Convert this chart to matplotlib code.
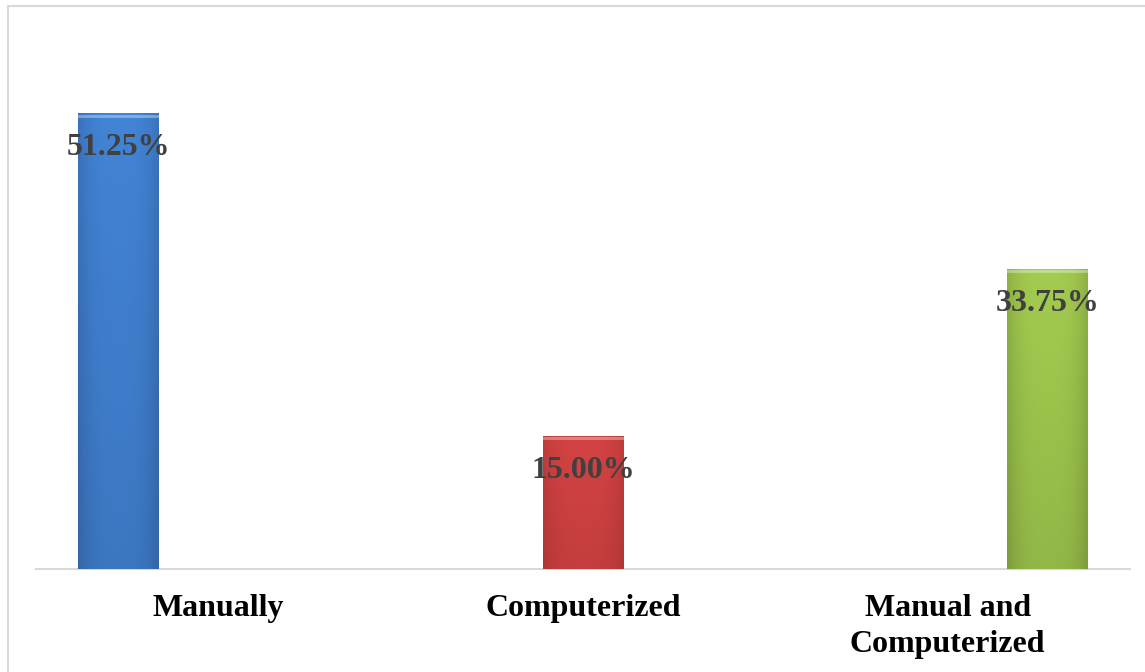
import matplotlib.pyplot as plt
import numpy as np
from matplotlib.lines import Line2D
from matplotlib.colors import LinearSegmentedColormap

categories = ["Manually", "Computerized", "Manual and\nComputerized"]
values = [51.25, 15.00, 33.75]
value_labels = ["51.25%", "15.00%", "33.75%"]
offsets = [-0.274, 0.0, 0.274]   # each series sits in its own slot of the cluster
colors = [("#3465a6", "#4284d6"), ("#b03636", "#d44343"), ("#7c9c3c", "#a4cc50")]

plt.rcParams['font.family'] = ['Liberation Serif', 'DejaVu Serif']

fig = plt.figure(figsize=(11.45, 6.72), dpi=100)
ax = fig.add_axes([36 / 1145, 103 / 672, 1094 / 1145, 534 / 672])

x = np.arange(len(categories))
bars = ax.bar(x + np.array(offsets), values, width=0.222, color=[c[1] for c in colors],
              edgecolor="none", zorder=2)

# shading to mimic the bevelled Excel bars (lighter top, darker bottom and sides)
for b, (dark, light) in zip(bars, colors):
    cmap = LinearSegmentedColormap.from_list("g", [dark, light])
    xx = np.linspace(-1, 1, 64)
    yy = np.linspace(0, 1, 128).reshape(-1, 1)
    grad = 1 - 0.45 * np.abs(xx) ** 3 - 0.35 * (1 - yy)
    x0, y0 = b.get_x(), b.get_y()
    im = ax.imshow(grad, cmap=cmap, aspect="auto", zorder=3, origin="lower", vmin=0.2, vmax=1,
                   extent=[x0, x0 + b.get_width(), y0, y0 + b.get_height()])
    im.set_clip_path(b)
    ax.plot([x0, x0 + b.get_width()], [b.get_height() - 0.3] * 2, color="white",
            alpha=0.35, lw=2, zorder=4)

for b, lab in zip(bars, value_labels):
    ax.annotate(lab, (b.get_x() + b.get_width() / 2, b.get_height()),
                xytext=(0, -25), textcoords="offset points", ha="center", va="center",
                fontsize=23, fontweight="bold", color="#404040", zorder=5)

ax.set_xlim(-0.5, 2.5)
ax.set_ylim(0, 60)
ax.set_xticks(x)
ax.set_xticklabels(categories, fontsize=23, fontweight="bold", linespacing=1.3)
ax.tick_params(axis="x", length=0, pad=18)
ax.set_yticks([])
for s in ["top", "right", "left"]:
    ax.spines[s].set_visible(False)
ax.spines["bottom"].set_color("#d9d9d9")
ax.spines["bottom"].set_linewidth(1.5)

# chart border (only top and left edges visible in the crop)
fig.add_artist(Line2D([7.5 / 1145, 7.5 / 1145], [0, 1 - 6 / 672], color="#d9d9d9", lw=1.5))
fig.add_artist(Line2D([7.5 / 1145, 1], [1 - 6 / 672, 1 - 6 / 672], color="#d9d9d9", lw=1.5))

fig.savefig("out.png", dpi=100)
